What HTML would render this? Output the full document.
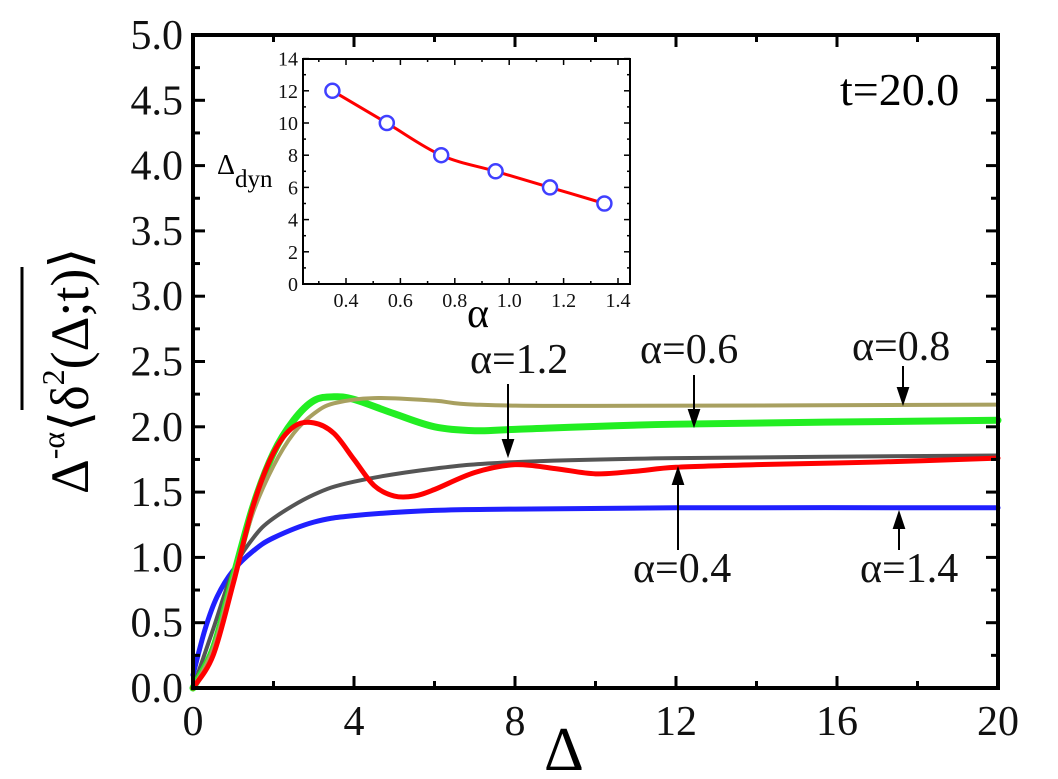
<!DOCTYPE html>
<html><head><meta charset="utf-8"><style>
html,body{margin:0;padding:0;background:#fff;}
svg, svg text{font-family:"Liberation Serif","Times New Roman",serif;}
</style></head><body>
<svg id="s" width="1058" height="774" viewBox="0 0 1058 774" xmlns="http://www.w3.org/2000/svg" font-family="Liberation Serif, serif">
<g id="curves" fill="none" stroke-linecap="round" stroke-linejoin="round"></g>
<g id="ticks" stroke="#000" stroke-width="3"></g>
<rect x="193" y="35" width="805" height="653" fill="none" stroke="#000" stroke-width="4"/>
<g id="labels" font-size="42" fill="#111"></g>
<!-- inset -->
<rect x="303" y="59" width="327" height="225" fill="#fff" stroke="#000" stroke-width="2"/>
<g id="iticks" stroke="#000" stroke-width="1.5"></g>
<g id="ilabels" font-size="20" fill="#111"></g>
<path id="ired" fill="none" stroke="#f00" stroke-width="3"/>
<g id="imk" fill="#fff" stroke="#4040ff" stroke-width="2.5"></g>
<text x="217" y="174" font-size="28">Δ<tspan font-size="25" dy="13">dyn</tspan></text>
<text x="467" y="327" font-size="42">α</text>
<!-- annotations -->
<text x="840" y="105" font-size="46">t=20.0</text>
<g font-size="42" fill="#111">
<text x="470" y="373">α=1.2</text>
<text x="640" y="363">α=0.6</text>
<text x="852" y="360">α=0.8</text>
<text x="633" y="582">α=0.4</text>
<text x="860" y="582">α=1.4</text>
</g>
<g stroke="#000" stroke-width="2" fill="#000">
<line x1="508" y1="384" x2="508" y2="444"/><polygon points="503,440 513,440 508,455"/>
<line x1="694" y1="375" x2="694" y2="414"/><polygon points="689,410 699,410 694,425"/>
<line x1="903" y1="366" x2="903" y2="392"/><polygon points="898,388 908,388 903,403"/>
<line x1="678" y1="550" x2="678" y2="480"/><polygon points="673,484 683,484 678,469"/>
<line x1="899" y1="550" x2="899" y2="524"/><polygon points="894,528 904,528 899,513"/>
</g>
<text x="544" y="770" font-size="62">Δ</text>
<g transform="translate(88,494) rotate(-90)">
<text x="0" y="0" font-size="54">Δ<tspan font-size="32" dy="-24">-α</tspan><tspan dy="24">⟨δ</tspan><tspan font-size="32" dy="-24">2</tspan><tspan dy="24">(Δ;t)⟩</tspan></text>
</g>
<line x1="22" y1="267" x2="22" y2="410" stroke="#000" stroke-width="3"/>
</svg>
<script>
const NS="http://www.w3.org/2000/svg";
function el(t,a,p){const e=document.createElementNS(NS,t);for(const k in a)e.setAttribute(k,a[k]);if(p)document.getElementById(p).appendChild(e);return e;}
const X=d=>193+d*40.25, Y=v=>688-v*130.6;
function cr(pts){let d="M"+pts[0][0]+","+pts[0][1];for(let i=0;i<pts.length-1;i++){const p0=pts[Math.max(i-1,0)],p1=pts[i],p2=pts[i+1],p3=pts[Math.min(i+2,pts.length-1)];
d+=" C"+(p1[0]+(p2[0]-p0[0])/6)+","+(p1[1]+(p2[1]-p0[1])/6)+" "+(p2[0]-(p3[0]-p1[0])/6)+","+(p2[1]-(p3[1]-p1[1])/6)+" "+p2[0]+","+p2[1];}return d;}
const series=[
["#2020ff",5,[[0,0.1],[0.3,0.45],[0.6,0.7],[1,0.9],[1.5,1.05],[2,1.15],[3,1.27],[4,1.32],[6,1.36],[8,1.37],[12,1.38],[20,1.38]]],
["#555",4,[[0,0],[0.5,0.45],[1,0.9],[1.5,1.15],[2,1.3],[3,1.48],[4,1.58],[6,1.68],[8,1.73],[12,1.76],[20,1.78]]],
["#22ee22",7,[[0,0],[0.5,0.3],[1,0.85],[1.5,1.4],[2,1.8],[2.5,2.05],[3,2.2],[3.5,2.23],[4,2.21],[5,2.1],[6,2.0],[7,1.97],[8,1.98],[12,2.02],[20,2.05]]],
["#a8a060",4,[[0,0],[0.5,0.3],[1,0.85],[1.5,1.35],[2,1.7],[2.5,1.95],[3,2.1],[3.5,2.18],[4.5,2.22],[6,2.2],[7,2.17],[10,2.16],[20,2.17]]],
["#f00",5,[[0,0],[0.5,0.25],[1,0.8],[1.5,1.4],[2,1.8],[2.5,2.0],[3,2.03],[3.5,1.95],[4,1.75],[4.5,1.55],[5,1.47],[5.5,1.47],[6,1.52],[7,1.65],[8,1.71],[9,1.68],[10,1.64],[11,1.66],[12,1.69],[14,1.71],[17,1.73],[20,1.76]]]];
series.forEach(s=>el("path",{d:cr(s[2].map(p=>[X(p[0]),Y(p[1])])),stroke:s[0],"stroke-width":s[1]},"curves"));
for(let i=0;i<=20;i+=2){const x=X(i),L=i%4==0?12:7;el("line",{x1:x,y1:688,x2:x,y2:688-L},"ticks");el("line",{x1:x,y1:35,x2:x,y2:35+L},"ticks");
if(i%4==0){const t=el("text",{x:x,y:735,"text-anchor":"middle"},"labels");t.textContent=i;}}
for(let k=0;k<=20;k++){const v=k*0.25,y=Y(v),L=k%2==0?12:7;el("line",{x1:193,y1:y,x2:193+L,y2:y},"ticks");el("line",{x1:998,y1:y,x2:998-L,y2:y},"ticks");
if(k%2==0){const t=el("text",{x:183,y:y+14,"text-anchor":"end"},"labels");t.textContent=v.toFixed(1);}}
const IX=a=>346+(a-0.4)*272, IY=v=>284-v*16.1;
for(let a=0.3;a<=1.41;a+=0.1){const x=IX(a),L=Math.round(a*10)%2==0?6:3;el("line",{x1:x,y1:284,x2:x,y2:284-L},"iticks");el("line",{x1:x,y1:59,x2:x,y2:59+L},"iticks");
if(Math.round(a*10)%2==0){const t=el("text",{x:x,y:307,"text-anchor":"middle"},"ilabels");t.textContent=a.toFixed(1);}}
for(let v=0;v<=14;v++){const y=IY(v),L=v%2==0?6:3;el("line",{x1:303,y1:y,x2:303+L,y2:y},"iticks");el("line",{x1:630,y1:y,x2:630-L,y2:y},"iticks");
if(v%2==0){const t=el("text",{x:298,y:y+7,"text-anchor":"end"},"ilabels");t.textContent=v;}}
const ip=[[0.35,12],[0.55,10],[0.75,8],[0.95,7],[1.15,6],[1.35,5]].map(p=>[IX(p[0]),IY(p[1])]);
document.getElementById("ired").setAttribute("d",cr(ip));
ip.forEach(p=>el("circle",{cx:p[0],cy:p[1],r:7},"imk"));
</script>
</body></html>
